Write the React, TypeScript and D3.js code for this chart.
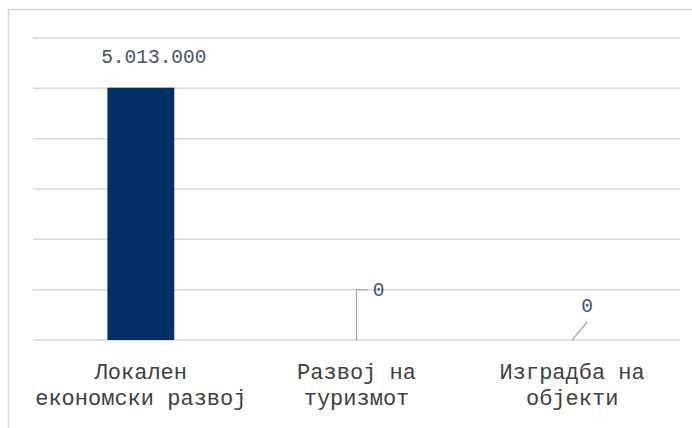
import React, { useRef, useEffect } from 'react';
import * as d3 from 'd3';

const categories = ['Локален економски развој', 'Развој на туризмот', 'Изградба на објекти'];
const categoryLines = [
  ['Локален', 'економски развој'],
  ['Развој на', 'туризмот'],
  ['Изградба на', 'објекти'],
];
const values = [5013000, 0, 0];
const valueLabels = ['5.013.000', '0', '0'];
const yTicks = [0, 1000000, 2000000, 3000000, 4000000, 5000000, 6000000];

function App() {
  const svgRef = useRef<SVGSVGElement>(null);

  useEffect(() => {
    const w = 692;
    const h = 428;
    const svg = d3.select(svgRef.current)
      .attr('width', w)
      .attr('height', h);
    svg.selectAll('*').remove();

    // chart area border
    svg.append('path')
      .attr('d', `M8.5,${h} L8.5,9.5 L${w},9.5`)
      .attr('fill', 'none')
      .attr('stroke', '#d9d9d9')
      .attr('stroke-width', 1.5);

    const x = d3.scaleBand()
      .domain(categories)
      .range([33, 680])
      .padding(0);

    const y = d3.scaleLinear()
      .domain([0, 6000000])
      .range([340, 38]);

    // gridlines
    svg.append('g')
      .selectAll('line')
      .data(yTicks)
      .join('line')
      .attr('x1', 33)
      .attr('x2', 680)
      .attr('y1', d => y(d))
      .attr('y2', d => y(d))
      .attr('stroke', '#d9d9d9')
      .attr('stroke-width', 1.5);

    const barW = x.bandwidth() * 0.31;
    const cx = (c: string) => (x(c) as number) + x.bandwidth() / 2;

    svg.append('g')
      .selectAll('rect')
      .data(values)
      .join('rect')
      .attr('x', (d, i) => cx(categories[i]) - barW / 2)
      .attr('y', d => y(d))
      .attr('width', barW)
      .attr('height', d => y(0) - y(d))
      .attr('fill', '#003067');

    // leader lines for zero labels
    const c1 = cx(categories[1]);
    svg.append('path')
      .attr('d', `M${c1},${y(values[1])} L${c1},${y(1000000)} L${c1 + 11},${y(1000000)}`)
      .attr('fill', 'none')
      .attr('stroke', '#a6a6a6')
      .attr('stroke-width', 1.2);
    const c2 = cx(categories[2]);
    svg.append('line')
      .attr('x1', c2)
      .attr('y1', y(values[2]))
      .attr('x2', c2 + 15)
      .attr('y2', y(values[2]) - 18)
      .attr('stroke', '#a6a6a6')
      .attr('stroke-width', 1.2);

    // data labels
    const labelPos = [
      [cx(categories[0]) + 13, y(values[0]) - 25],
      [c1 + 22, y(1000000) + 6],
      [c2 + 15, y(values[2]) - 28],
    ];
    svg.append('g')
      .selectAll('text')
      .data(valueLabels)
      .join('text')
      .attr('x', (d, i) => labelPos[i][0])
      .attr('y', (d, i) => labelPos[i][1])
      .attr('text-anchor', 'middle')
      .attr('font-family', '"Liberation Mono", monospace')
      .attr('font-size', 19.5)
      .attr('fill', '#44546A')
      .text(d => d);

    // category labels
    const cat = svg.append('g')
      .selectAll('text')
      .data(categories)
      .join('text')
      .attr('x', d => cx(d))
      .attr('y', 379)
      .attr('text-anchor', 'middle')
      .attr('font-family', '"Courier New", Courier, "Nimbus Mono PS", FreeMono, "Liberation Mono", monospace')
      .attr('font-size', 22)
      .attr('fill', '#404040');
    cat.selectAll('tspan')
      .data((d, i) => categoryLines[i].map(t => ({ t, c: d })))
      .join('tspan')
      .attr('x', d => cx(d.c))
      .attr('dy', (d, j) => (j === 0 ? 0 : 26))
      .text(d => d.t);
  }, []);

  return (
    <svg ref={svgRef} style={{ position: 'absolute', left: 0, top: 0, background: '#fff' }}></svg>
  );
}

export default App;
